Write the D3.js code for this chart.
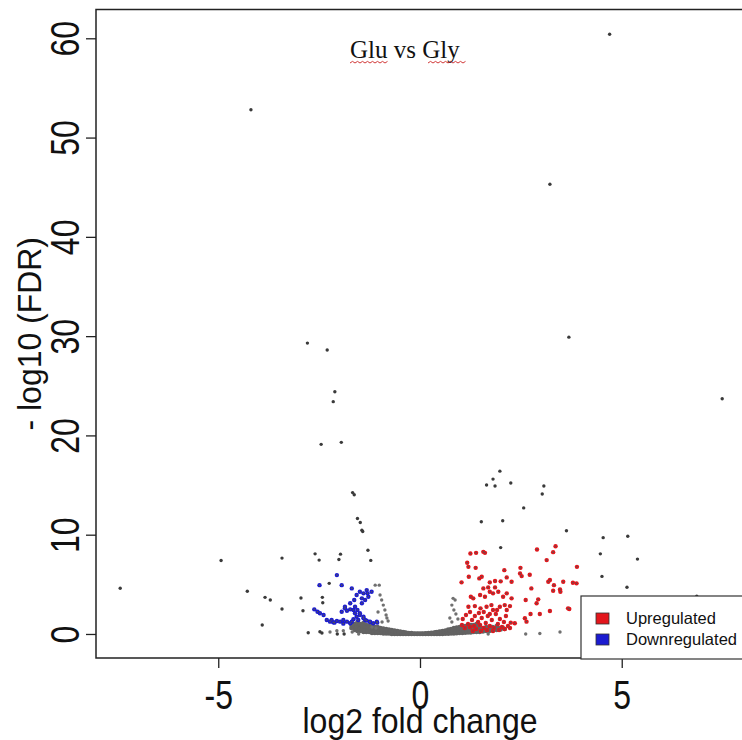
<!DOCTYPE html>
<html>
<head>
<meta charset="utf-8">
<script src="https://cdn.jsdelivr.net/npm/d3@7"></script>
<style>
  html, body { margin: 0; padding: 0; background: #fff; }
  svg { display: block; }
</style>
</head>
<body>
<svg id="chart" width="742" height="740"></svg>
<script>
// ---------------- DATA (log2 fold change, -log10 FDR) ----------------
const chartTitle = "Glu vs Gly";
const xTicks = [-5, 0, 5];
const yTicks = [0, 10, 20, 30, 40, 50, 60];
const legendLabels = ["Upregulated", "Downregulated"];

// dense non-significant band
const grayBand = [
  [-1.70,0.6],[-1.70,0.9],[-1.62,0.4],[-1.62,1.0],[-1.55,0.3],[-1.55,0.8],[-1.55,1.2],
  [-1.48,0.3],[-1.48,0.7],[-1.48,1.0],[-1.40,0.2],[-1.40,0.6],[-1.40,1.1],
  [-1.33,0.2],[-1.33,0.5],[-1.33,0.9],[-1.26,0.2],[-1.26,0.5],[-1.26,0.8],
  [-1.19,0.1],[-1.19,0.4],[-1.19,0.8],[-1.12,0.1],[-1.12,0.4],[-1.12,0.7],
  [-1.05,0.1],[-1.05,0.3],[-1.05,0.7],[-0.98,0.1],[-0.98,0.3],[-0.98,0.6],
  [-0.91,0.05],[-0.91,0.3],[-0.91,0.55],[-0.84,0.05],[-0.84,0.25],[-0.84,0.5],
  [-0.77,0.05],[-0.77,0.2],[-0.77,0.45],[-0.70,0.0],[-0.70,0.2],[-0.70,0.4],
  [-0.63,0.0],[-0.63,0.15],[-0.63,0.35],[-0.56,0.0],[-0.56,0.15],[-0.56,0.3],
  [-0.49,0.0],[-0.49,0.1],[-0.49,0.25],[-0.42,0.0],[-0.42,0.1],[-0.42,0.2],
  [-0.35,0.0],[-0.35,0.15],[-0.28,0.0],[-0.28,0.1],[-0.21,0.0],[-0.21,0.1],
  [-0.14,0.0],[-0.14,0.05],[-0.07,0.0],[-0.07,0.05],[0.0,0.0],[0.0,0.04],
  [0.07,0.0],[0.07,0.05],[0.14,0.0],[0.14,0.08],[0.21,0.0],[0.21,0.1],
  [0.28,0.0],[0.28,0.12],[0.35,0.0],[0.35,0.15],[0.42,0.0],[0.42,0.1],[0.42,0.2],
  [0.49,0.0],[0.49,0.12],[0.49,0.25],[0.56,0.0],[0.56,0.15],[0.56,0.3],
  [0.63,0.02],[0.63,0.2],[0.63,0.35],[0.70,0.03],[0.70,0.2],[0.70,0.45],
  [0.77,0.05],[0.77,0.25],[0.77,0.5],[0.84,0.05],[0.84,0.3],[0.84,0.6],
  [0.91,0.08],[0.91,0.3],[0.91,0.65],[0.98,0.1],[0.98,0.35],[0.98,0.7],
  [1.05,0.1],[1.05,0.4],[1.05,0.75],[1.12,0.12],[1.12,0.4],[1.12,0.8],
  [1.19,0.15],[1.19,0.45],[1.19,0.85],[1.26,0.15],[1.26,0.5],[1.26,0.9],
  [1.33,0.2],[1.33,0.5],[1.33,0.9],[1.40,0.2],[1.40,0.55],[1.40,1.0],
  [1.48,0.2],[1.48,0.6],[1.56,0.25],[1.56,0.6],[1.64,0.3],[1.64,0.7],
  [1.72,0.3],[1.72,0.65],[1.80,0.35],[1.80,0.7],[1.90,0.4],[1.90,0.8],
  [2.00,0.45],[2.10,0.5]
];
const grayBandMid = [
  [-1.66,0.7],[-1.58,0.6],[-1.51,0.5],[-1.51,1.0],[-1.44,0.45],[-1.44,0.85],
  [-1.37,0.35],[-1.37,0.75],[-1.30,0.35],[-1.30,0.7],[-1.23,0.3],[-1.23,0.6],
  [-1.16,0.25],[-1.16,0.6],[-1.09,0.2],[-1.09,0.55],[-1.02,0.2],[-1.02,0.5],
  [-0.95,0.15],[-0.95,0.45],[-0.88,0.15],[-0.88,0.4],[-0.81,0.1],[-0.81,0.35],
  [-0.74,0.1],[-0.74,0.3],[-0.67,0.1],[-0.67,0.28],[-0.60,0.05],[-0.60,0.25],
  [-0.53,0.05],[-0.53,0.2],[-0.46,0.05],[-0.46,0.18],[-0.39,0.05],[-0.39,0.15],
  [-0.32,0.05],[-0.25,0.05],[-0.18,0.03],[-0.11,0.03],[-0.04,0.02],[0.04,0.02],
  [0.11,0.03],[0.18,0.04],[0.25,0.06],[0.32,0.07],[0.39,0.08],[0.39,0.16],
  [0.46,0.06],[0.46,0.2],[0.53,0.08],[0.53,0.22],[0.60,0.1],[0.60,0.27],
  [0.67,0.12],[0.67,0.32],[0.74,0.12],[0.74,0.38],[0.81,0.15],[0.81,0.42],
  [0.88,0.18],[0.88,0.48],[0.95,0.2],[0.95,0.52],[1.02,0.25],[1.02,0.58],
  [1.09,0.25],[1.09,0.6],[1.16,0.3],[1.16,0.65],[1.23,0.3],[1.23,0.7],
  [1.30,0.35],[1.30,0.72],[1.37,0.35],[1.37,0.78],[1.44,0.4],[1.44,0.8],
  [1.52,0.4],[1.60,0.45],[1.68,0.5],[1.76,0.5],[1.85,0.55],[1.95,0.6],[2.05,0.65]
];

// scattered non-significant points
const graySparse = [
  [-1.11,4.92],[-1.01,4.92],[-0.99,3.92],[-0.95,3.42],[-0.91,2.91],[-0.87,2.41],
  [-0.84,1.91],[-0.82,1.61],[-0.79,1.31],[-1.04,2.21],[-0.94,1.21],[-1.09,0.6],
  [-1.19,0.7],[-2.06,0.33],[-1.90,0.33],[-2.23,0.2],[-1.68,0.2],[-1.52,0.0],
  [0.82,3.59],[0.87,3.42],[0.79,2.91],[0.84,2.41],[0.89,2.01],[0.74,1.61],
  [0.94,1.51],[0.79,1.21],[1.69,0.0],[2.62,0.0],[2.97,0.05],[3.47,0.2]
];

// isolated extreme points
const outliers = [
  [-7.43,4.6],[-4.93,7.4],[-4.28,4.3],[-4.19,52.8],[-3.84,3.69],[-3.71,3.42],
  [-3.91,0.9],[-3.42,7.64],[-3.42,2.51],[-2.95,3.62],[-2.90,2.34],[-2.77,0.13],
  [-2.60,8.07],[-2.50,7.44],[-2.42,3.69],[-2.41,3.15],[-2.48,0.23],[-2.43,0.1],
  [-2.05,0.0],[-1.88,0.0],[-2.01,7.5],[-1.97,8.04],[-1.67,14.24],[-1.63,14.02],
  [-1.55,11.63],[-1.48,11.23],[-1.44,10.45],[-1.42,10.32],[-1.29,8.44],[-1.22,7.41],
  [-2.25,5.1],[-2.79,29.3],[-2.30,28.6],[-2.11,24.4],[-2.15,23.4],[-2.45,19.1],[-1.95,19.3],
  [4.70,60.4],[3.22,45.3],[3.69,29.9],[7.49,23.7],[1.98,16.4],[1.81,15.6],
  [1.86,14.9],[1.65,15.0],[2.25,15.2],[3.07,14.9],[3.03,14.1],[2.57,12.7],
  [1.52,11.3],[2.05,11.4],[3.63,10.4],[4.54,9.7],[5.15,9.85],[4.47,8.07],
  [5.39,7.54],[2.0,8.7],[4.51,5.8],[5.13,4.7],[6.86,3.8]
];

const upregulated = [
  [1.25,8.11],[1.39,8.17],[1.57,8.27],[1.61,8.17],[2.90,8.51],[3.36,8.84],[3.30,8.24],
  [1.17,7.17],[1.20,6.76],[1.38,6.66],[3.14,7.44],[3.89,6.76],[2.09,6.43],[2.15,5.70],
  [2.27,5.26],[2.49,6.66],[2.48,6.10],[2.52,5.83],[2.72,5.96],[1.03,5.2],[1.21,5.76],
  [1.47,5.6],[1.53,5.76],[1.73,5.2],[1.86,5.33],[2.0,5.3],[3.22,5.43],[3.18,5.26],
  [3.32,4.92],[3.55,5.26],[3.79,5.16],[3.88,5.10],[2.76,4.59],[3.30,4.35],[3.47,4.49],
  [3.48,4.25],[1.57,4.59],[1.69,4.69],[1.86,4.69],[1.73,4.25],[1.49,3.92],[1.61,3.75],
  [1.81,4.09],[1.94,4.25],[2.15,4.09],[2.27,3.59],[2.06,3.75],[1.26,3.75],[1.32,3.59],
  [1.20,2.74],[1.36,2.81],[1.50,2.58],[1.65,2.74],[1.77,2.91],[1.81,2.41],[1.98,2.74],
  [2.10,2.91],[2.23,2.81],[2.15,2.41],[2.62,3.42],[2.93,3.49],[2.89,3.09],[3.67,2.58],
  [2.97,2.01],[3.22,2.31],[2.74,2.01],[2.60,1.58],[2.64,1.24],[3.70,2.51],[2.25,1.14],
  [2.35,1.08],[1.04,0.9],[1.11,0.6],[1.19,1.0],[1.24,0.7],[1.29,1.41],[1.34,0.8],
  [1.39,0.5],[1.44,1.21],[1.49,0.9],[1.53,1.61],[1.58,0.6],[1.63,1.1],[1.68,1.81],
  [1.73,0.8],[1.78,1.41],[1.83,0.6],[1.88,2.01],[1.93,1.0],[1.98,1.51],[2.03,0.7],
  [2.08,1.21],[2.13,1.81],[2.18,0.8],[1.14,1.91],[1.24,2.21],[1.36,1.81],[1.46,2.11],
  [1.58,2.21],[1.73,2.01],[1.91,2.41],[1.06,1.51],[1.66,0.4],[1.51,0.3],[1.81,0.3],
  [1.96,0.4],[2.10,0.5],[2.23,0.6],[1.31,0.3]
];

const downregulated = [
  [-2.62,2.48],[-2.54,2.24],[-2.48,2.08],[-2.39,1.91],[-1.94,4.92],[-1.69,4.59],
  [-2.06,5.93],[-2.49,4.92],[-2.31,1.41],[-2.23,1.24],[-2.15,1.18],[-2.06,1.31],
  [-1.98,1.24],[-1.90,1.41],[-1.81,1.24],[-1.73,1.08],[-1.65,1.48],[-1.57,1.74],
  [-1.49,1.91],[-1.40,1.58],[-1.32,1.34],[-1.24,1.21],[-1.16,1.08],[-1.07,1.24],
  [-1.94,2.24],[-1.86,2.58],[-1.73,3.09],[-1.63,3.42],[-1.57,3.92],[-1.49,4.25],
  [-1.40,4.09],[-1.32,4.42],[-1.30,4.09],[-1.20,4.25],[-1.28,3.75],[-1.36,3.42],
  [-1.44,3.09],[-1.55,2.41],[-1.61,2.08],[-1.49,2.08],[-1.40,1.74],[-1.44,3.59],
  [-1.61,2.74],[-1.65,2.41],[-1.73,2.48],[-1.86,2.74],[-1.81,2.34],[-2.19,1.41],
  [-2.12,1.14],[-1.90,1.04],[-1.69,1.24],[-1.53,1.41],[-1.36,1.41],[-1.24,1.24],
  [-1.06,1.14]
];

// ---------------- LAYOUT ----------------
const plot = { left: 96, right: 746, top: 9.5, bottom: 658 };
const svg = d3.select("#chart");

const x = d3.scaleLinear().domain([-8.03, 8.08]).range([plot.left, plot.right]);
const y = d3.scaleLinear().domain([-2.42, 62.9]).range([plot.bottom, plot.top]);

svg.append("defs").append("clipPath").attr("id", "clip")
  .append("rect").attr("x", plot.left).attr("y", plot.top)
  .attr("width", plot.right - plot.left).attr("height", plot.bottom - plot.top);

const pts = svg.append("g").attr("clip-path", "url(#clip)");

pts.selectAll("circle.band").data(grayBand.concat(grayBandMid)).join("circle")
  .attr("class", "band").attr("cx", d => x(d[0])).attr("cy", d => y(d[1]))
  .attr("r", 2.3).attr("fill", "#636363");

pts.selectAll("circle.sparse").data(graySparse).join("circle")
  .attr("class", "sparse").attr("cx", d => x(d[0])).attr("cy", d => y(d[1]))
  .attr("r", 1.7).attr("fill", "#707070");

function colored(data, cls, col) {
  pts.selectAll("circle." + cls).data(data).join("circle")
    .attr("class", cls).attr("cx", d => x(d[0])).attr("cy", d => y(d[1]))
    .attr("r", 2.2).attr("fill", col);
  pts.selectAll("circle." + cls + "c").data(data).join("circle")
    .attr("class", cls + "c").attr("cx", d => x(d[0])).attr("cy", d => y(d[1]))
    .attr("r", 0.8).attr("fill", "#555");
}
colored(upregulated, "up", "#e3161c");
colored(downregulated, "down", "#1b1bd0");

pts.selectAll("circle.out").data(outliers).join("circle")
  .attr("class", "out").attr("cx", d => x(d[0])).attr("cy", d => y(d[1]))
  .attr("r", 1.7).attr("fill", "#3a3a3a");

// frame
svg.append("path")
  .attr("d", `M${plot.right},${plot.top}H${plot.left}V${plot.bottom}H${plot.right}`)
  .attr("fill", "none").attr("stroke", "#222").attr("stroke-width", 1.5);

// axes
const fontFam = "'Liberation Sans', Arial, Helvetica, sans-serif";
const xAxis = d3.axisBottom(x).tickValues(xTicks).tickSize(10).tickFormat(d3.format("d"));
const gx = svg.append("g").attr("transform", `translate(0,${plot.bottom})`).call(xAxis);
gx.select(".domain").remove();
gx.selectAll(".tick line").attr("stroke", "#222").attr("stroke-width", 1.3);
gx.selectAll(".tick text").remove();
gx.selectAll(".tick").append("text")
  .attr("transform", "translate(0,51) scale(0.8,1)")
  .attr("text-anchor", "middle").attr("fill", "#111")
  .style("font-family", fontFam).style("font-size", "40px")
  .text(d => String(d).replace("\u2212", "-"));

const yAxis = d3.axisLeft(y).tickValues(yTicks).tickSize(10).tickFormat(d3.format("d"));
const gy = svg.append("g").attr("transform", `translate(${plot.left},0)`).call(yAxis);
gy.select(".domain").remove();
gy.selectAll(".tick line").attr("stroke", "#222").attr("stroke-width", 1.3);
gy.selectAll(".tick text").remove();
gy.selectAll(".tick").append("text")
  .attr("transform", "translate(-17,0) rotate(-90) scale(0.8,1)")
  .attr("text-anchor", "middle").attr("fill", "#111")
  .style("font-family", fontFam).style("font-size", "40px")
  .text(d => String(d));

// axis titles
svg.append("text")
  .attr("transform", `translate(${x(0)},733) scale(0.89,1)`)
  .attr("text-anchor", "middle").attr("fill", "#111")
  .style("font-family", fontFam).style("font-size", "36px")
  .text("log2 fold change");

svg.append("text")
  .attr("transform", `translate(41,${(plot.top + plot.bottom) / 2}) rotate(-90) scale(0.94,1)`)
  .attr("text-anchor", "middle").attr("fill", "#111")
  .style("font-family", fontFam).style("font-size", "34px")
  .text("- log10 (FDR)");

// title
svg.append("text")
  .attr("x", 350).attr("y", 58)
  .attr("fill", "#111")
  .style("font-family", "'Liberation Serif', 'Times New Roman', serif")
  .style("font-size", "25px")
  .text(chartTitle);

// spell-check squiggles under "Glu" and "Gly"
function squiggle(x0, x1, yy) {
  let d = `M${x0},${yy}`;
  let up = true;
  for (let xx = x0 + 2.5; xx <= x1; xx += 2.5) { d += `L${xx},${yy + (up ? -1.6 : 0)}`; up = !up; }
  svg.append("path").attr("d", d).attr("fill", "none")
    .attr("stroke", "#d23a3a").attr("stroke-width", 1);
}
squiggle(350, 389, 63);
squiggle(428, 466, 63);

// legend
const lg = svg.append("g").attr("transform", "translate(581,596)");
lg.append("rect").attr("x", 0).attr("y", 0).attr("width", 200).attr("height", 63)
  .attr("fill", "#fff").attr("stroke", "#333").attr("stroke-width", 1.2);
const legendColors = ["#e3161c", "#1b1bd0"];
legendLabels.forEach((lab, i) => {
  lg.append("rect").attr("x", 15).attr("y", 17 + i * 21).attr("width", 13).attr("height", 11)
    .attr("fill", legendColors[i]).attr("stroke", "#333").attr("stroke-width", 0.8);
  lg.append("text").attr("x", 45).attr("y", 28 + i * 21)
    .attr("fill", "#111")
    .style("font-family", fontFam).style("font-size", "16.5px")
    .text(lab);
});
</script>
</body>
</html>
